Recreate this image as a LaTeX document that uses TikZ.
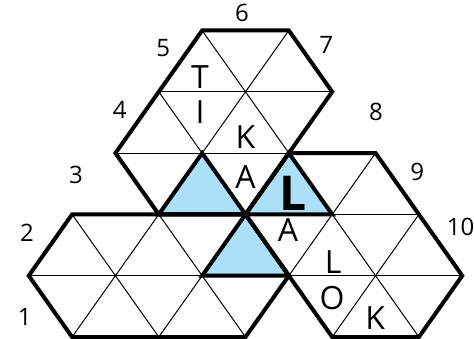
\documentclass[tikz,border=0pt]{standalone}
\usepackage{fontspec}
\setmainfont{Open Sans}
\usepackage{tikz}
\definecolor{cellblue}{HTML}{ABE0F8}

\begin{document}
\begin{tikzpicture}[
  x=21.675pt, y=30.65pt,
  % thin lattice lines inside each region, bold for region and cell outlines
  grid/.style={line width=0.5pt, black},
  rim/.style={line width=2pt, black},
  shaded/.style={fill=cellblue},
  edgenum/.style={font=\fontsize{12}{12}\selectfont, inner sep=0pt},
  letter/.style={font=\fontsize{16}{16}\selectfont, inner sep=0pt},
  bigletter/.style={font=\fontsize{24}{24}\selectfont\bfseries, inner sep=0pt}
]
\useasboundingbox (-5.663,-0.0163) rectangle (5.271,5.4976);

% the three regions, as (m,j) lattice points
\def\toppart{(-1,5) -- (1,5) -- (2,4) -- (0,2) -- (-2,2) -- (-3,3) -- cycle}
\def\leftpart{(-4,2) -- (0,2) -- (1,1) -- (0,0) -- (-4,0) -- (-5,1) -- cycle}
\def\rightpart{(1,3) -- (3,3) -- (5,1) -- (4,0) -- (2,0) -- (0,2) -- cycle}

% shaded cells
\fill[shaded] (-2,2) -- (0,2) -- (-1,3) -- cycle;
\fill[shaded] (0,2) -- (2,2) -- (1,3) -- cycle;
\fill[shaded] (-1,1) -- (1,1) -- (0,2) -- cycle;

% lattice, clipped to each region
\foreach \part in {\toppart, \leftpart, \rightpart} {
  \begin{scope}
    \clip \part;
    \foreach \j in {0,...,5}
      \draw[grid] (-6,\j) -- (6,\j);
    \foreach \c in {-12,-10,...,12} {
      \draw[grid] (\c-1,-1) -- (\c+6,6);
      \draw[grid] (\c+1,-1) -- (\c-6,6);
    }
  \end{scope}
}

% outlines
\draw[rim] (-2,2) -- (0,2) -- (-1,3) -- cycle;
\draw[rim] (0,2) -- (2,2) -- (1,3) -- cycle;
\draw[rim] (-1,1) -- (1,1) -- (0,2) -- cycle;
\draw[rim] \toppart;
\draw[rim] \leftpart;
\draw[rim] \rightpart;

% letters in the cells
\node[letter] (t1) at (-1.05,4.24) {T};
\node[letter] (i1) at (-1.05,3.67) {I};
\node[letter] (k1) at (0,3.26) {K};
\node[letter] (a1) at (0,2.61) {A};
\node[bigletter] (l0) at (1.1,2.35) {L};
\node[letter] (a2) at (0.98,1.75) {A};
\node[letter] (l2) at (2.02,1.22) {L};
\node[letter] (o2) at (2.0,0.64) {O};
\node[letter] (k2) at (2.99,0.31) {K};

% edge numbers
\node[edgenum] (n1) at (-5.09,0.33) {1};
\node[edgenum] (n2) at (-5.04,1.70) {2};
\node[edgenum] (n3) at (-3.91,2.64) {3};
\node[edgenum] (n4) at (-2.90,3.70) {4};
\node[edgenum] (n5) at (-1.90,4.71) {5};
\node[edgenum] (n6) at (-0.08,5.29) {6};
\node[edgenum] (n7) at (1.86,4.76) {7};
\node[edgenum] (n8) at (3.01,3.67) {8};
\node[edgenum] (n9) at (3.96,2.69) {9};
\node[edgenum] (n10) at (4.96,1.79) {10};

\end{tikzpicture}
\end{document}
